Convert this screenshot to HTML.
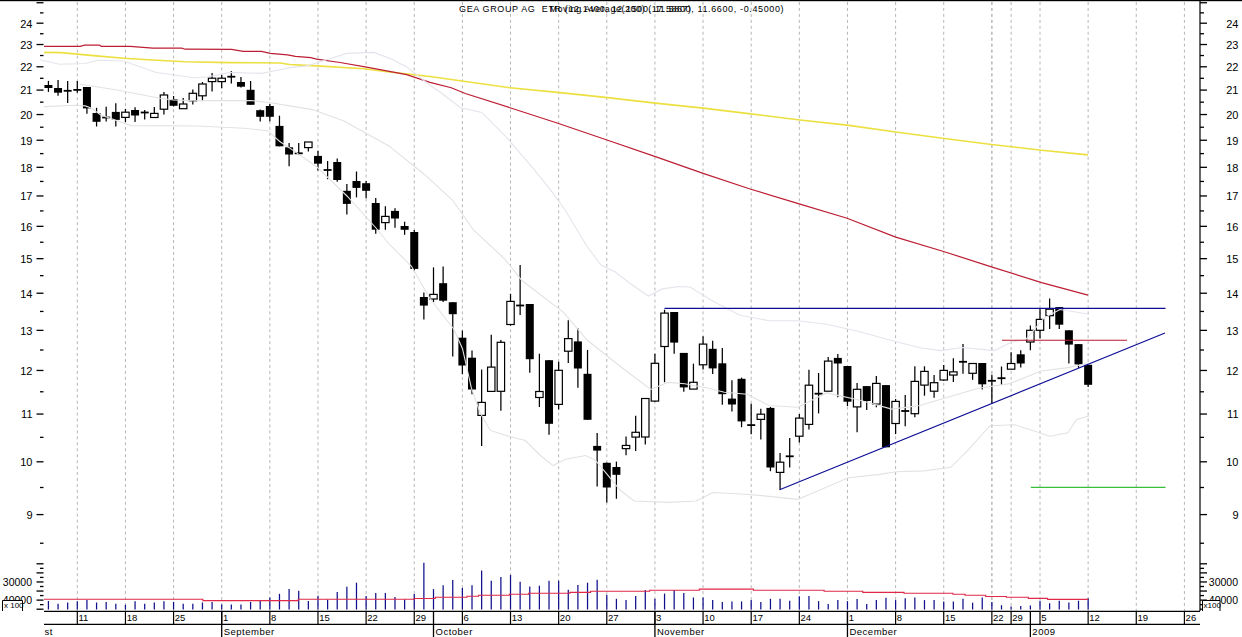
<!DOCTYPE html>
<html><head><meta charset="utf-8"><style>
html,body{margin:0;padding:0;background:#fff;}
svg{display:block;}
text{font-family:"Liberation Sans",sans-serif;fill:#000;}
.pl{font-size:11px;}
.dl{font-size:9.5px;}
.ml{font-size:9.5px;letter-spacing:0.5px;}
.vl{font-size:10.5px;}
.xl{font-size:8px;}
.tl{font-size:9px;letter-spacing:0.4px;white-space:pre;}
</style></head><body>
<svg width="1242" height="637" viewBox="0 0 1242 637">
<rect x="0" y="0" width="1242" height="1.2" fill="#000"/>
<line x1="77.3" y1="2" x2="77.3" y2="611" stroke="#b6b6b6" stroke-width="1" stroke-dasharray="3 2.95"/>
<line x1="125.44" y1="2" x2="125.44" y2="611" stroke="#b6b6b6" stroke-width="1" stroke-dasharray="3 2.95"/>
<line x1="173.57" y1="2" x2="173.57" y2="611" stroke="#b6b6b6" stroke-width="1" stroke-dasharray="3 2.95"/>
<line x1="221.71" y1="2" x2="221.71" y2="611" stroke="#b6b6b6" stroke-width="1" stroke-dasharray="3 2.95"/>
<line x1="269.84" y1="2" x2="269.84" y2="611" stroke="#b6b6b6" stroke-width="1" stroke-dasharray="3 2.95"/>
<line x1="317.98" y1="2" x2="317.98" y2="611" stroke="#b6b6b6" stroke-width="1" stroke-dasharray="3 2.95"/>
<line x1="366.11" y1="2" x2="366.11" y2="611" stroke="#b6b6b6" stroke-width="1" stroke-dasharray="3 2.95"/>
<line x1="414.25" y1="2" x2="414.25" y2="611" stroke="#b6b6b6" stroke-width="1" stroke-dasharray="3 2.95"/>
<line x1="462.38" y1="2" x2="462.38" y2="611" stroke="#b6b6b6" stroke-width="1" stroke-dasharray="3 2.95"/>
<line x1="510.52" y1="2" x2="510.52" y2="611" stroke="#b6b6b6" stroke-width="1" stroke-dasharray="3 2.95"/>
<line x1="558.65" y1="2" x2="558.65" y2="611" stroke="#b6b6b6" stroke-width="1" stroke-dasharray="3 2.95"/>
<line x1="606.79" y1="2" x2="606.79" y2="611" stroke="#b6b6b6" stroke-width="1" stroke-dasharray="3 2.95"/>
<line x1="654.92" y1="2" x2="654.92" y2="611" stroke="#b6b6b6" stroke-width="1" stroke-dasharray="3 2.95"/>
<line x1="703.06" y1="2" x2="703.06" y2="611" stroke="#b6b6b6" stroke-width="1" stroke-dasharray="3 2.95"/>
<line x1="751.19" y1="2" x2="751.19" y2="611" stroke="#b6b6b6" stroke-width="1" stroke-dasharray="3 2.95"/>
<line x1="799.33" y1="2" x2="799.33" y2="611" stroke="#b6b6b6" stroke-width="1" stroke-dasharray="3 2.95"/>
<line x1="847.46" y1="2" x2="847.46" y2="611" stroke="#b6b6b6" stroke-width="1" stroke-dasharray="3 2.95"/>
<line x1="895.6" y1="2" x2="895.6" y2="611" stroke="#b6b6b6" stroke-width="1" stroke-dasharray="3 2.95"/>
<line x1="943.73" y1="2" x2="943.73" y2="611" stroke="#b6b6b6" stroke-width="1" stroke-dasharray="3 2.95"/>
<line x1="991.87" y1="2" x2="991.87" y2="611" stroke="#b6b6b6" stroke-width="1" stroke-dasharray="3 2.95"/>
<line x1="991.87" y1="2" x2="991.87" y2="611" stroke="#b6b6b6" stroke-width="1" stroke-dasharray="3 2.95"/>
<line x1="1011.12" y1="2" x2="1011.12" y2="611" stroke="#b6b6b6" stroke-width="1" stroke-dasharray="3 2.95"/>
<line x1="1040" y1="2" x2="1040" y2="611" stroke="#b6b6b6" stroke-width="1" stroke-dasharray="3 2.95"/>
<line x1="1088.14" y1="2" x2="1088.14" y2="611" stroke="#b6b6b6" stroke-width="1" stroke-dasharray="3 2.95"/>
<line x1="1136.27" y1="2" x2="1136.27" y2="611" stroke="#b6b6b6" stroke-width="1" stroke-dasharray="3 2.95"/>
<line x1="1184.41" y1="2" x2="1184.41" y2="611" stroke="#b6b6b6" stroke-width="1" stroke-dasharray="3 2.95"/>
<line x1="36.5" y1="514.59" x2="43.5" y2="514.59" stroke="#000" stroke-width="1.3"/>
<line x1="40" y1="487.5" x2="43.5" y2="487.5" stroke="#000" stroke-width="1.3"/>
<line x1="36.5" y1="461.8" x2="43.5" y2="461.8" stroke="#000" stroke-width="1.3"/>
<line x1="40" y1="437.36" x2="43.5" y2="437.36" stroke="#000" stroke-width="1.3"/>
<line x1="36.5" y1="414.05" x2="43.5" y2="414.05" stroke="#000" stroke-width="1.3"/>
<line x1="40" y1="391.78" x2="43.5" y2="391.78" stroke="#000" stroke-width="1.3"/>
<line x1="36.5" y1="370.46" x2="43.5" y2="370.46" stroke="#000" stroke-width="1.3"/>
<line x1="40" y1="350.01" x2="43.5" y2="350.01" stroke="#000" stroke-width="1.3"/>
<line x1="36.5" y1="330.36" x2="43.5" y2="330.36" stroke="#000" stroke-width="1.3"/>
<line x1="40" y1="311.45" x2="43.5" y2="311.45" stroke="#000" stroke-width="1.3"/>
<line x1="36.5" y1="293.23" x2="43.5" y2="293.23" stroke="#000" stroke-width="1.3"/>
<line x1="40" y1="275.65" x2="43.5" y2="275.65" stroke="#000" stroke-width="1.3"/>
<line x1="36.5" y1="258.67" x2="43.5" y2="258.67" stroke="#000" stroke-width="1.3"/>
<line x1="40" y1="242.24" x2="43.5" y2="242.24" stroke="#000" stroke-width="1.3"/>
<line x1="36.5" y1="226.33" x2="43.5" y2="226.33" stroke="#000" stroke-width="1.3"/>
<line x1="40" y1="210.92" x2="43.5" y2="210.92" stroke="#000" stroke-width="1.3"/>
<line x1="36.5" y1="195.96" x2="43.5" y2="195.96" stroke="#000" stroke-width="1.3"/>
<line x1="40" y1="181.44" x2="43.5" y2="181.44" stroke="#000" stroke-width="1.3"/>
<line x1="36.5" y1="167.32" x2="43.5" y2="167.32" stroke="#000" stroke-width="1.3"/>
<line x1="40" y1="153.6" x2="43.5" y2="153.6" stroke="#000" stroke-width="1.3"/>
<line x1="36.5" y1="140.24" x2="43.5" y2="140.24" stroke="#000" stroke-width="1.3"/>
<line x1="40" y1="127.22" x2="43.5" y2="127.22" stroke="#000" stroke-width="1.3"/>
<line x1="36.5" y1="114.54" x2="43.5" y2="114.54" stroke="#000" stroke-width="1.3"/>
<line x1="40" y1="102.17" x2="43.5" y2="102.17" stroke="#000" stroke-width="1.3"/>
<line x1="36.5" y1="90.09" x2="43.5" y2="90.09" stroke="#000" stroke-width="1.3"/>
<line x1="40" y1="78.31" x2="43.5" y2="78.31" stroke="#000" stroke-width="1.3"/>
<line x1="36.5" y1="66.79" x2="43.5" y2="66.79" stroke="#000" stroke-width="1.3"/>
<line x1="40" y1="55.53" x2="43.5" y2="55.53" stroke="#000" stroke-width="1.3"/>
<line x1="36.5" y1="44.52" x2="43.5" y2="44.52" stroke="#000" stroke-width="1.3"/>
<line x1="40" y1="33.74" x2="43.5" y2="33.74" stroke="#000" stroke-width="1.3"/>
<line x1="36.5" y1="23.2" x2="43.5" y2="23.2" stroke="#000" stroke-width="1.3"/>
<line x1="40" y1="12.86" x2="43.5" y2="12.86" stroke="#000" stroke-width="1.3"/>
<line x1="36.5" y1="2.74" x2="43.5" y2="2.74" stroke="#000" stroke-width="1.3"/>
<line x1="40" y1="543.23" x2="43.5" y2="543.23" stroke="#000" stroke-width="1.3"/>
<line x1="1200" y1="514.59" x2="1207" y2="514.59" stroke="#000" stroke-width="1.3"/>
<line x1="1200" y1="487.5" x2="1204" y2="487.5" stroke="#000" stroke-width="1.3"/>
<line x1="1200" y1="461.8" x2="1207" y2="461.8" stroke="#000" stroke-width="1.3"/>
<line x1="1200" y1="437.36" x2="1204" y2="437.36" stroke="#000" stroke-width="1.3"/>
<line x1="1200" y1="414.05" x2="1207" y2="414.05" stroke="#000" stroke-width="1.3"/>
<line x1="1200" y1="391.78" x2="1204" y2="391.78" stroke="#000" stroke-width="1.3"/>
<line x1="1200" y1="370.46" x2="1207" y2="370.46" stroke="#000" stroke-width="1.3"/>
<line x1="1200" y1="350.01" x2="1204" y2="350.01" stroke="#000" stroke-width="1.3"/>
<line x1="1200" y1="330.36" x2="1207" y2="330.36" stroke="#000" stroke-width="1.3"/>
<line x1="1200" y1="311.45" x2="1204" y2="311.45" stroke="#000" stroke-width="1.3"/>
<line x1="1200" y1="293.23" x2="1207" y2="293.23" stroke="#000" stroke-width="1.3"/>
<line x1="1200" y1="275.65" x2="1204" y2="275.65" stroke="#000" stroke-width="1.3"/>
<line x1="1200" y1="258.67" x2="1207" y2="258.67" stroke="#000" stroke-width="1.3"/>
<line x1="1200" y1="242.24" x2="1204" y2="242.24" stroke="#000" stroke-width="1.3"/>
<line x1="1200" y1="226.33" x2="1207" y2="226.33" stroke="#000" stroke-width="1.3"/>
<line x1="1200" y1="210.92" x2="1204" y2="210.92" stroke="#000" stroke-width="1.3"/>
<line x1="1200" y1="195.96" x2="1207" y2="195.96" stroke="#000" stroke-width="1.3"/>
<line x1="1200" y1="181.44" x2="1204" y2="181.44" stroke="#000" stroke-width="1.3"/>
<line x1="1200" y1="167.32" x2="1207" y2="167.32" stroke="#000" stroke-width="1.3"/>
<line x1="1200" y1="153.6" x2="1204" y2="153.6" stroke="#000" stroke-width="1.3"/>
<line x1="1200" y1="140.24" x2="1207" y2="140.24" stroke="#000" stroke-width="1.3"/>
<line x1="1200" y1="127.22" x2="1204" y2="127.22" stroke="#000" stroke-width="1.3"/>
<line x1="1200" y1="114.54" x2="1207" y2="114.54" stroke="#000" stroke-width="1.3"/>
<line x1="1200" y1="102.17" x2="1204" y2="102.17" stroke="#000" stroke-width="1.3"/>
<line x1="1200" y1="90.09" x2="1207" y2="90.09" stroke="#000" stroke-width="1.3"/>
<line x1="1200" y1="78.31" x2="1204" y2="78.31" stroke="#000" stroke-width="1.3"/>
<line x1="1200" y1="66.79" x2="1207" y2="66.79" stroke="#000" stroke-width="1.3"/>
<line x1="1200" y1="55.53" x2="1204" y2="55.53" stroke="#000" stroke-width="1.3"/>
<line x1="1200" y1="44.52" x2="1207" y2="44.52" stroke="#000" stroke-width="1.3"/>
<line x1="1200" y1="33.74" x2="1204" y2="33.74" stroke="#000" stroke-width="1.3"/>
<line x1="1200" y1="23.2" x2="1207" y2="23.2" stroke="#000" stroke-width="1.3"/>
<line x1="1200" y1="12.86" x2="1204" y2="12.86" stroke="#000" stroke-width="1.3"/>
<line x1="1200" y1="2.74" x2="1207" y2="2.74" stroke="#000" stroke-width="1.3"/>
<line x1="1200" y1="543.23" x2="1204" y2="543.23" stroke="#000" stroke-width="1.3"/>
<line x1="1200" y1="1" x2="1200" y2="611" stroke="#000" stroke-width="1.2"/>
<text x="32.5" y="518.99" text-anchor="end" class="pl">9</text>
<text x="1238.5" y="518.99" text-anchor="end" class="pl">9</text>
<text x="32.5" y="466.2" text-anchor="end" class="pl">10</text>
<text x="1238.5" y="466.2" text-anchor="end" class="pl">10</text>
<text x="32.5" y="418.45" text-anchor="end" class="pl">11</text>
<text x="1238.5" y="418.45" text-anchor="end" class="pl">11</text>
<text x="32.5" y="374.86" text-anchor="end" class="pl">12</text>
<text x="1238.5" y="374.86" text-anchor="end" class="pl">12</text>
<text x="32.5" y="334.76" text-anchor="end" class="pl">13</text>
<text x="1238.5" y="334.76" text-anchor="end" class="pl">13</text>
<text x="32.5" y="297.63" text-anchor="end" class="pl">14</text>
<text x="1238.5" y="297.63" text-anchor="end" class="pl">14</text>
<text x="32.5" y="263.07" text-anchor="end" class="pl">15</text>
<text x="1238.5" y="263.07" text-anchor="end" class="pl">15</text>
<text x="32.5" y="230.73" text-anchor="end" class="pl">16</text>
<text x="1238.5" y="230.73" text-anchor="end" class="pl">16</text>
<text x="32.5" y="200.36" text-anchor="end" class="pl">17</text>
<text x="1238.5" y="200.36" text-anchor="end" class="pl">17</text>
<text x="32.5" y="171.72" text-anchor="end" class="pl">18</text>
<text x="1238.5" y="171.72" text-anchor="end" class="pl">18</text>
<text x="32.5" y="144.64" text-anchor="end" class="pl">19</text>
<text x="1238.5" y="144.64" text-anchor="end" class="pl">19</text>
<text x="32.5" y="118.94" text-anchor="end" class="pl">20</text>
<text x="1238.5" y="118.94" text-anchor="end" class="pl">20</text>
<text x="32.5" y="94.49" text-anchor="end" class="pl">21</text>
<text x="1238.5" y="94.49" text-anchor="end" class="pl">21</text>
<text x="32.5" y="71.19" text-anchor="end" class="pl">22</text>
<text x="1238.5" y="71.19" text-anchor="end" class="pl">22</text>
<text x="32.5" y="48.92" text-anchor="end" class="pl">23</text>
<text x="1238.5" y="48.92" text-anchor="end" class="pl">23</text>
<text x="32.5" y="27.6" text-anchor="end" class="pl">24</text>
<text x="1238.5" y="27.6" text-anchor="end" class="pl">24</text>
<line x1="36.5" y1="563.8" x2="43.5" y2="563.8" stroke="#000" stroke-width="1.3"/>
<line x1="1200" y1="563.8" x2="1207" y2="563.8" stroke="#000" stroke-width="1.3"/>
<line x1="40" y1="568.34" x2="43.5" y2="568.34" stroke="#000" stroke-width="1.3"/>
<line x1="1200" y1="568.34" x2="1204" y2="568.34" stroke="#000" stroke-width="1.3"/>
<line x1="36.5" y1="572.88" x2="43.5" y2="572.88" stroke="#000" stroke-width="1.3"/>
<line x1="1200" y1="572.88" x2="1207" y2="572.88" stroke="#000" stroke-width="1.3"/>
<line x1="40" y1="577.42" x2="43.5" y2="577.42" stroke="#000" stroke-width="1.3"/>
<line x1="1200" y1="577.42" x2="1204" y2="577.42" stroke="#000" stroke-width="1.3"/>
<line x1="36.5" y1="581.96" x2="43.5" y2="581.96" stroke="#000" stroke-width="1.3"/>
<line x1="1200" y1="581.96" x2="1207" y2="581.96" stroke="#000" stroke-width="1.3"/>
<line x1="40" y1="586.5" x2="43.5" y2="586.5" stroke="#000" stroke-width="1.3"/>
<line x1="1200" y1="586.5" x2="1204" y2="586.5" stroke="#000" stroke-width="1.3"/>
<line x1="36.5" y1="591.04" x2="43.5" y2="591.04" stroke="#000" stroke-width="1.3"/>
<line x1="1200" y1="591.04" x2="1207" y2="591.04" stroke="#000" stroke-width="1.3"/>
<line x1="40" y1="595.58" x2="43.5" y2="595.58" stroke="#000" stroke-width="1.3"/>
<line x1="1200" y1="595.58" x2="1204" y2="595.58" stroke="#000" stroke-width="1.3"/>
<line x1="36.5" y1="600.12" x2="43.5" y2="600.12" stroke="#000" stroke-width="1.3"/>
<line x1="1200" y1="600.12" x2="1207" y2="600.12" stroke="#000" stroke-width="1.3"/>
<line x1="40" y1="604.66" x2="43.5" y2="604.66" stroke="#000" stroke-width="1.3"/>
<line x1="1200" y1="604.66" x2="1204" y2="604.66" stroke="#000" stroke-width="1.3"/>
<line x1="36.5" y1="609.2" x2="43.5" y2="609.2" stroke="#000" stroke-width="1.3"/>
<line x1="1200" y1="609.2" x2="1207" y2="609.2" stroke="#000" stroke-width="1.3"/>
<polyline points="44,52.4 61,52.6 96.4,55.9 123.7,58.3 152.7,60 185,61.8 230,62.6 280,63 289.6,64.5 316.6,65.9 364.1,68.8 387.3,71.7 430,76.5 510,87.7 560,92.6 607.7,97.6 655.4,103.1 703.1,108.1 750.8,113.9 800,120 847.1,125.1 895.7,132 942.8,138.2 991.4,144.5 1041.6,150.2 1088,154.9" fill="none" stroke="#ece040" stroke-width="1.6" />
<polyline points="44,46.3 80.3,46.3 84.3,45.1 99.6,45.1 101.2,46.3 130.2,46.3 152.7,48.2 181.7,48.2 185,49.2 231.6,49.3 243.2,51.4 261.5,51.4 270.2,53.4 287.6,54.8 295.4,56.4 310.8,57.7 316.6,59.2 340,62.5 368,67.4 406.6,74.6 430,82.3 451.2,87.7 465.3,93.5 510,107.7 557.1,123 607.7,140.3 655.4,156.6 703.1,173.4 750.8,189.2 800,204.1 847.1,218.3 895.7,237.1 942.8,251.2 991.4,266.9 1041.6,282.6 1088,295.1" fill="none" stroke="#bc1e34" stroke-width="1.2" />
<line x1="48.42" y1="80.9" x2="48.42" y2="91.9" stroke="#000" stroke-width="1.25"/>
<rect x="44.42" y="85" width="8" height="3" fill="#000"/>
<line x1="58.05" y1="80" x2="58.05" y2="95.7" stroke="#000" stroke-width="1.25"/>
<rect x="54.05" y="88" width="8" height="4.7" fill="#000"/>
<line x1="67.67" y1="81" x2="67.67" y2="102.9" stroke="#000" stroke-width="1.25"/>
<rect x="63.67" y="89.9" width="8" height="1.8" fill="#000"/>
<line x1="77.3" y1="81" x2="77.3" y2="92.7" stroke="#000" stroke-width="1.25"/>
<rect x="73.3" y="89" width="8" height="1.8" fill="#000"/>
<line x1="86.93" y1="87" x2="86.93" y2="113.8" stroke="#000" stroke-width="1.25"/>
<rect x="82.93" y="87" width="8" height="21.4" fill="#000"/>
<line x1="96.56" y1="107.8" x2="96.56" y2="126.5" stroke="#000" stroke-width="1.25"/>
<rect x="92.56" y="113" width="8" height="8.8" fill="#000"/>
<line x1="106.18" y1="106.7" x2="106.18" y2="121.5" stroke="#000" stroke-width="1.25"/>
<rect x="102.18" y="116.6" width="8" height="1.8" fill="#000"/>
<line x1="115.81" y1="103.2" x2="115.81" y2="126.5" stroke="#000" stroke-width="1.25"/>
<rect x="111.81" y="111.9" width="8" height="8" fill="#000"/>
<line x1="125.44" y1="108.9" x2="125.44" y2="122" stroke="#000" stroke-width="1.25"/>
<rect x="121.74" y="112.2" width="7.4" height="5.2" fill="#fff" stroke="#000" stroke-width="1.2"/>
<line x1="135.06" y1="107.3" x2="135.06" y2="122" stroke="#000" stroke-width="1.25"/>
<rect x="131.06" y="110" width="8" height="5.5" fill="#000"/>
<line x1="144.69" y1="110" x2="144.69" y2="119.6" stroke="#000" stroke-width="1.25"/>
<rect x="140.69" y="111.6" width="8" height="1.8" fill="#000"/>
<line x1="154.32" y1="107" x2="154.32" y2="117.5" stroke="#000" stroke-width="1.25"/>
<rect x="150.62" y="113.4" width="7.4" height="4.1" fill="#fff" stroke="#000" stroke-width="1.2"/>
<line x1="163.94" y1="92" x2="163.94" y2="114.6" stroke="#000" stroke-width="1.25"/>
<rect x="160.24" y="95" width="7.4" height="14.2" fill="#fff" stroke="#000" stroke-width="1.2"/>
<line x1="173.57" y1="96" x2="173.57" y2="106.5" stroke="#000" stroke-width="1.25"/>
<rect x="169.57" y="99" width="8" height="6.8" fill="#000"/>
<line x1="183.2" y1="98" x2="183.2" y2="108.7" stroke="#000" stroke-width="1.25"/>
<rect x="179.5" y="104" width="7.4" height="4.7" fill="#fff" stroke="#000" stroke-width="1.2"/>
<line x1="192.82" y1="89.5" x2="192.82" y2="104.6" stroke="#000" stroke-width="1.25"/>
<rect x="189.12" y="93.3" width="7.4" height="7.5" fill="#fff" stroke="#000" stroke-width="1.2"/>
<line x1="202.45" y1="82" x2="202.45" y2="100.8" stroke="#000" stroke-width="1.25"/>
<rect x="198.75" y="84" width="7.4" height="11.8" fill="#fff" stroke="#000" stroke-width="1.2"/>
<line x1="212.08" y1="73" x2="212.08" y2="91.4" stroke="#000" stroke-width="1.25"/>
<rect x="208.38" y="78.2" width="7.4" height="3.4" fill="#fff" stroke="#000" stroke-width="1.2"/>
<line x1="221.71" y1="75" x2="221.71" y2="88.3" stroke="#000" stroke-width="1.25"/>
<rect x="218.01" y="78.2" width="7.4" height="3.4" fill="#fff" stroke="#000" stroke-width="1.2"/>
<line x1="231.33" y1="71" x2="231.33" y2="83.6" stroke="#000" stroke-width="1.25"/>
<rect x="227.33" y="75.8" width="8" height="1.8" fill="#000"/>
<line x1="240.96" y1="77" x2="240.96" y2="87.6" stroke="#000" stroke-width="1.25"/>
<rect x="236.96" y="82" width="8" height="4.7" fill="#000"/>
<line x1="250.59" y1="81" x2="250.59" y2="104.8" stroke="#000" stroke-width="1.25"/>
<rect x="246.59" y="89.8" width="8" height="15" fill="#000"/>
<line x1="260.21" y1="109.4" x2="260.21" y2="121.5" stroke="#000" stroke-width="1.25"/>
<rect x="256.21" y="110.2" width="8" height="6.6" fill="#000"/>
<line x1="269.84" y1="104" x2="269.84" y2="121.2" stroke="#000" stroke-width="1.25"/>
<rect x="265.84" y="106" width="8" height="10.8" fill="#000"/>
<line x1="279.47" y1="115.7" x2="279.47" y2="146.3" stroke="#000" stroke-width="1.25"/>
<rect x="275.47" y="125.9" width="8" height="20.4" fill="#000"/>
<line x1="289.1" y1="143" x2="289.1" y2="166.3" stroke="#000" stroke-width="1.25"/>
<rect x="285.1" y="147.3" width="8" height="7.2" fill="#000"/>
<line x1="298.72" y1="143" x2="298.72" y2="155" stroke="#000" stroke-width="1.25"/>
<rect x="294.72" y="152.4" width="8" height="1.8" fill="#000"/>
<line x1="308.35" y1="142" x2="308.35" y2="151.6" stroke="#000" stroke-width="1.25"/>
<rect x="304.65" y="142" width="7.4" height="5.6" fill="#fff" stroke="#000" stroke-width="1.2"/>
<line x1="317.98" y1="150.7" x2="317.98" y2="170.6" stroke="#000" stroke-width="1.25"/>
<rect x="313.98" y="155.9" width="8" height="7.8" fill="#000"/>
<line x1="327.6" y1="161" x2="327.6" y2="179.2" stroke="#000" stroke-width="1.25"/>
<rect x="323.6" y="169.1" width="8" height="1.8" fill="#000"/>
<line x1="337.23" y1="158.5" x2="337.23" y2="181.8" stroke="#000" stroke-width="1.25"/>
<rect x="333.23" y="162" width="8" height="18" fill="#000"/>
<line x1="346.86" y1="183.9" x2="346.86" y2="214.6" stroke="#000" stroke-width="1.25"/>
<rect x="342.86" y="190.8" width="8" height="13.1" fill="#000"/>
<line x1="356.48" y1="171.5" x2="356.48" y2="197.4" stroke="#000" stroke-width="1.25"/>
<rect x="352.48" y="181" width="8" height="6.9" fill="#000"/>
<line x1="366.11" y1="181" x2="366.11" y2="198.2" stroke="#000" stroke-width="1.25"/>
<rect x="362.11" y="183.2" width="8" height="7.6" fill="#000"/>
<line x1="375.74" y1="198" x2="375.74" y2="233.7" stroke="#000" stroke-width="1.25"/>
<rect x="371.74" y="203" width="8" height="26.7" fill="#000"/>
<line x1="385.37" y1="206.2" x2="385.37" y2="229.7" stroke="#000" stroke-width="1.25"/>
<rect x="381.67" y="216.4" width="7.4" height="6.2" fill="#fff" stroke="#000" stroke-width="1.2"/>
<line x1="394.99" y1="208.3" x2="394.99" y2="227.7" stroke="#000" stroke-width="1.25"/>
<rect x="390.99" y="210.9" width="8" height="7.6" fill="#000"/>
<line x1="404.62" y1="221.7" x2="404.62" y2="234.8" stroke="#000" stroke-width="1.25"/>
<rect x="400.62" y="226" width="8" height="3.8" fill="#000"/>
<line x1="414.25" y1="230" x2="414.25" y2="270.5" stroke="#000" stroke-width="1.25"/>
<rect x="410.25" y="232" width="8" height="36.9" fill="#000"/>
<line x1="423.87" y1="292.6" x2="423.87" y2="319.5" stroke="#000" stroke-width="1.25"/>
<rect x="419.87" y="297" width="8" height="8.6" fill="#000"/>
<line x1="433.5" y1="267.4" x2="433.5" y2="302.1" stroke="#000" stroke-width="1.25"/>
<rect x="429.8" y="294.4" width="7.4" height="4.6" fill="#fff" stroke="#000" stroke-width="1.2"/>
<line x1="443.13" y1="266.4" x2="443.13" y2="302.1" stroke="#000" stroke-width="1.25"/>
<rect x="439.13" y="283.2" width="8" height="17.5" fill="#000"/>
<line x1="452.75" y1="302.2" x2="452.75" y2="356.5" stroke="#000" stroke-width="1.25"/>
<rect x="448.75" y="302.2" width="8" height="12" fill="#000"/>
<line x1="462.38" y1="330.6" x2="462.38" y2="374.2" stroke="#000" stroke-width="1.25"/>
<rect x="458.38" y="337.7" width="8" height="27.8" fill="#000"/>
<line x1="472.01" y1="350.6" x2="472.01" y2="394.2" stroke="#000" stroke-width="1.25"/>
<rect x="468.01" y="357.7" width="8" height="31.8" fill="#000"/>
<line x1="481.64" y1="369.5" x2="481.64" y2="446" stroke="#000" stroke-width="1.25"/>
<rect x="477.94" y="402.4" width="7.4" height="13" fill="#fff" stroke="#000" stroke-width="1.2"/>
<line x1="491.26" y1="334.8" x2="491.26" y2="391.4" stroke="#000" stroke-width="1.25"/>
<rect x="487.56" y="367.1" width="7.4" height="24.3" fill="#fff" stroke="#000" stroke-width="1.2"/>
<line x1="500.89" y1="340" x2="500.89" y2="410.7" stroke="#000" stroke-width="1.25"/>
<rect x="497.19" y="342.3" width="7.4" height="49" fill="#fff" stroke="#000" stroke-width="1.2"/>
<line x1="510.52" y1="293.9" x2="510.52" y2="325.6" stroke="#000" stroke-width="1.25"/>
<rect x="506.82" y="301.4" width="7.4" height="23.1" fill="#fff" stroke="#000" stroke-width="1.2"/>
<line x1="520.14" y1="264.9" x2="520.14" y2="315" stroke="#000" stroke-width="1.25"/>
<rect x="516.14" y="304.6" width="8" height="1.8" fill="#000"/>
<line x1="529.77" y1="304" x2="529.77" y2="372.7" stroke="#000" stroke-width="1.25"/>
<rect x="525.77" y="304" width="8" height="55.2" fill="#000"/>
<line x1="539.4" y1="353.7" x2="539.4" y2="407" stroke="#000" stroke-width="1.25"/>
<rect x="535.7" y="391.5" width="7.4" height="6" fill="#fff" stroke="#000" stroke-width="1.2"/>
<line x1="549.02" y1="360" x2="549.02" y2="434.8" stroke="#000" stroke-width="1.25"/>
<rect x="545.02" y="360.2" width="8" height="63.6" fill="#000"/>
<line x1="558.65" y1="361.8" x2="558.65" y2="409.4" stroke="#000" stroke-width="1.25"/>
<rect x="554.95" y="370.3" width="7.4" height="34.1" fill="#fff" stroke="#000" stroke-width="1.2"/>
<line x1="568.28" y1="320.3" x2="568.28" y2="363" stroke="#000" stroke-width="1.25"/>
<rect x="564.58" y="338.6" width="7.4" height="12.6" fill="#fff" stroke="#000" stroke-width="1.2"/>
<line x1="577.9" y1="328.2" x2="577.9" y2="387.7" stroke="#000" stroke-width="1.25"/>
<rect x="573.9" y="341.4" width="8" height="27.1" fill="#000"/>
<line x1="587.53" y1="349.9" x2="587.53" y2="420" stroke="#000" stroke-width="1.25"/>
<rect x="583.53" y="373.8" width="8" height="46" fill="#000"/>
<line x1="597.16" y1="433" x2="597.16" y2="486.6" stroke="#000" stroke-width="1.25"/>
<rect x="593.16" y="445.9" width="8" height="4.7" fill="#000"/>
<line x1="606.79" y1="462.4" x2="606.79" y2="502.4" stroke="#000" stroke-width="1.25"/>
<rect x="602.79" y="462.8" width="8" height="24.7" fill="#000"/>
<line x1="616.41" y1="461.6" x2="616.41" y2="498.8" stroke="#000" stroke-width="1.25"/>
<rect x="612.41" y="467" width="8" height="7.8" fill="#000"/>
<line x1="626.04" y1="436.5" x2="626.04" y2="455.3" stroke="#000" stroke-width="1.25"/>
<rect x="622.34" y="445.45" width="7.4" height="3.2" fill="#fff" stroke="#000" stroke-width="1.2"/>
<line x1="635.67" y1="415.8" x2="635.67" y2="450.9" stroke="#000" stroke-width="1.25"/>
<rect x="631.97" y="432.3" width="7.4" height="4.8" fill="#fff" stroke="#000" stroke-width="1.2"/>
<line x1="645.29" y1="398" x2="645.29" y2="444.5" stroke="#000" stroke-width="1.25"/>
<rect x="641.59" y="398.5" width="7.4" height="38.5" fill="#fff" stroke="#000" stroke-width="1.2"/>
<line x1="654.92" y1="353.7" x2="654.92" y2="401.8" stroke="#000" stroke-width="1.25"/>
<rect x="651.22" y="363.3" width="7.4" height="37.8" fill="#fff" stroke="#000" stroke-width="1.2"/>
<line x1="664.55" y1="309.7" x2="664.55" y2="382.2" stroke="#000" stroke-width="1.25"/>
<rect x="660.85" y="313.1" width="7.4" height="33.4" fill="#fff" stroke="#000" stroke-width="1.2"/>
<line x1="674.17" y1="312" x2="674.17" y2="353.7" stroke="#000" stroke-width="1.25"/>
<rect x="670.17" y="312" width="8" height="30.6" fill="#000"/>
<line x1="683.8" y1="352.9" x2="683.8" y2="391.7" stroke="#000" stroke-width="1.25"/>
<rect x="679.8" y="352.9" width="8" height="34.5" fill="#000"/>
<line x1="693.43" y1="363.7" x2="693.43" y2="389.1" stroke="#000" stroke-width="1.25"/>
<rect x="689.73" y="382.3" width="7.4" height="6.8" fill="#fff" stroke="#000" stroke-width="1.2"/>
<line x1="703.06" y1="336.3" x2="703.06" y2="369.6" stroke="#000" stroke-width="1.25"/>
<rect x="699.36" y="344.1" width="7.4" height="20.7" fill="#fff" stroke="#000" stroke-width="1.2"/>
<line x1="712.68" y1="340.8" x2="712.68" y2="373.9" stroke="#000" stroke-width="1.25"/>
<rect x="708.68" y="348.8" width="8" height="19.6" fill="#000"/>
<line x1="722.31" y1="348" x2="722.31" y2="404.7" stroke="#000" stroke-width="1.25"/>
<rect x="718.31" y="363.3" width="8" height="30.9" fill="#000"/>
<line x1="731.94" y1="380.2" x2="731.94" y2="411.6" stroke="#000" stroke-width="1.25"/>
<rect x="727.94" y="398.6" width="8" height="5.9" fill="#000"/>
<line x1="741.56" y1="377.6" x2="741.56" y2="427.2" stroke="#000" stroke-width="1.25"/>
<rect x="737.56" y="378.8" width="8" height="42.6" fill="#000"/>
<line x1="751.19" y1="403.7" x2="751.19" y2="434.2" stroke="#000" stroke-width="1.25"/>
<rect x="747.19" y="424.2" width="8" height="1.8" fill="#000"/>
<line x1="760.82" y1="408.8" x2="760.82" y2="439.4" stroke="#000" stroke-width="1.25"/>
<rect x="757.12" y="414.2" width="7.4" height="5.2" fill="#fff" stroke="#000" stroke-width="1.2"/>
<line x1="770.45" y1="406.9" x2="770.45" y2="471.2" stroke="#000" stroke-width="1.25"/>
<rect x="766.45" y="407.9" width="8" height="59.6" fill="#000"/>
<line x1="780.07" y1="452.9" x2="780.07" y2="489.8" stroke="#000" stroke-width="1.25"/>
<rect x="776.37" y="462.2" width="7.4" height="10.2" fill="#fff" stroke="#000" stroke-width="1.2"/>
<line x1="789.7" y1="437.9" x2="789.7" y2="467.5" stroke="#000" stroke-width="1.25"/>
<rect x="785.7" y="455.4" width="8" height="1.8" fill="#000"/>
<line x1="799.33" y1="413.9" x2="799.33" y2="442.4" stroke="#000" stroke-width="1.25"/>
<rect x="795.63" y="418.1" width="7.4" height="18.1" fill="#fff" stroke="#000" stroke-width="1.2"/>
<line x1="808.95" y1="369.8" x2="808.95" y2="429.5" stroke="#000" stroke-width="1.25"/>
<rect x="805.25" y="385.2" width="7.4" height="39.2" fill="#fff" stroke="#000" stroke-width="1.2"/>
<line x1="818.58" y1="373" x2="818.58" y2="413.4" stroke="#000" stroke-width="1.25"/>
<rect x="814.58" y="392.8" width="8" height="1.8" fill="#000"/>
<line x1="828.21" y1="357" x2="828.21" y2="391.2" stroke="#000" stroke-width="1.25"/>
<rect x="824.51" y="361.1" width="7.4" height="30.1" fill="#fff" stroke="#000" stroke-width="1.2"/>
<line x1="837.83" y1="354.1" x2="837.83" y2="397.2" stroke="#000" stroke-width="1.25"/>
<rect x="833.83" y="357.9" width="8" height="5.6" fill="#000"/>
<line x1="847.46" y1="366" x2="847.46" y2="406" stroke="#000" stroke-width="1.25"/>
<rect x="843.46" y="366" width="8" height="35.7" fill="#000"/>
<line x1="857.09" y1="382.9" x2="857.09" y2="432.3" stroke="#000" stroke-width="1.25"/>
<rect x="853.39" y="389.3" width="7.4" height="17.6" fill="#fff" stroke="#000" stroke-width="1.2"/>
<line x1="866.72" y1="386.1" x2="866.72" y2="410" stroke="#000" stroke-width="1.25"/>
<rect x="862.72" y="386.1" width="8" height="14.9" fill="#000"/>
<line x1="876.34" y1="376" x2="876.34" y2="407.3" stroke="#000" stroke-width="1.25"/>
<rect x="872.64" y="383.4" width="7.4" height="20.7" fill="#fff" stroke="#000" stroke-width="1.2"/>
<line x1="885.97" y1="385.1" x2="885.97" y2="447.3" stroke="#000" stroke-width="1.25"/>
<rect x="881.97" y="385.1" width="8" height="62.2" fill="#000"/>
<line x1="895.6" y1="399" x2="895.6" y2="434.1" stroke="#000" stroke-width="1.25"/>
<rect x="891.9" y="401.4" width="7.4" height="22.1" fill="#fff" stroke="#000" stroke-width="1.2"/>
<line x1="905.22" y1="394.9" x2="905.22" y2="426.3" stroke="#000" stroke-width="1.25"/>
<rect x="901.22" y="410.1" width="8" height="1.8" fill="#000"/>
<line x1="914.85" y1="366.3" x2="914.85" y2="417.3" stroke="#000" stroke-width="1.25"/>
<rect x="911.15" y="381.4" width="7.4" height="32.3" fill="#fff" stroke="#000" stroke-width="1.2"/>
<line x1="924.48" y1="366.3" x2="924.48" y2="395.7" stroke="#000" stroke-width="1.25"/>
<rect x="920.78" y="371.4" width="7.4" height="13.7" fill="#fff" stroke="#000" stroke-width="1.2"/>
<line x1="934.1" y1="374.9" x2="934.1" y2="397.8" stroke="#000" stroke-width="1.25"/>
<rect x="930.4" y="382.7" width="7.4" height="8.5" fill="#fff" stroke="#000" stroke-width="1.2"/>
<line x1="943.73" y1="365.1" x2="943.73" y2="381" stroke="#000" stroke-width="1.25"/>
<rect x="940.03" y="370.4" width="7.4" height="9.6" fill="#fff" stroke="#000" stroke-width="1.2"/>
<line x1="953.36" y1="358.2" x2="953.36" y2="382" stroke="#000" stroke-width="1.25"/>
<rect x="949.66" y="371.85" width="7.4" height="3.2" fill="#fff" stroke="#000" stroke-width="1.2"/>
<line x1="962.99" y1="344" x2="962.99" y2="373.7" stroke="#000" stroke-width="1.25"/>
<rect x="958.99" y="360.9" width="8" height="1.8" fill="#000"/>
<line x1="972.61" y1="363" x2="972.61" y2="379.8" stroke="#000" stroke-width="1.25"/>
<rect x="968.91" y="363.5" width="7.4" height="9.8" fill="#fff" stroke="#000" stroke-width="1.2"/>
<line x1="982.24" y1="363" x2="982.24" y2="389.6" stroke="#000" stroke-width="1.25"/>
<rect x="978.24" y="363" width="8" height="21.3" fill="#000"/>
<line x1="991.87" y1="374.7" x2="991.87" y2="403.3" stroke="#000" stroke-width="1.25"/>
<rect x="987.87" y="379.9" width="8" height="1.8" fill="#000"/>
<line x1="1001.49" y1="366.5" x2="1001.49" y2="384.9" stroke="#000" stroke-width="1.25"/>
<rect x="997.49" y="377.3" width="8" height="1.8" fill="#000"/>
<line x1="1011.12" y1="352.2" x2="1011.12" y2="369.2" stroke="#000" stroke-width="1.25"/>
<rect x="1007.42" y="363.5" width="7.4" height="5.7" fill="#fff" stroke="#000" stroke-width="1.2"/>
<line x1="1020.75" y1="350.2" x2="1020.75" y2="367.6" stroke="#000" stroke-width="1.25"/>
<rect x="1016.75" y="354.3" width="8" height="9.2" fill="#000"/>
<line x1="1030.37" y1="325.6" x2="1030.37" y2="350.3" stroke="#000" stroke-width="1.25"/>
<rect x="1026.67" y="330.3" width="7.4" height="11.7" fill="#fff" stroke="#000" stroke-width="1.2"/>
<line x1="1040" y1="308.3" x2="1040" y2="338.5" stroke="#000" stroke-width="1.25"/>
<rect x="1036.3" y="319.4" width="7.4" height="10.9" fill="#fff" stroke="#000" stroke-width="1.2"/>
<line x1="1049.63" y1="298.5" x2="1049.63" y2="329" stroke="#000" stroke-width="1.25"/>
<rect x="1045.93" y="309.2" width="7.4" height="6.5" fill="#fff" stroke="#000" stroke-width="1.2"/>
<line x1="1059.26" y1="307.1" x2="1059.26" y2="329" stroke="#000" stroke-width="1.25"/>
<rect x="1055.26" y="307.1" width="8" height="17.6" fill="#000"/>
<line x1="1068.88" y1="330.3" x2="1068.88" y2="363.6" stroke="#000" stroke-width="1.25"/>
<rect x="1064.88" y="330.3" width="8" height="14.3" fill="#000"/>
<line x1="1078.51" y1="344.1" x2="1078.51" y2="367.9" stroke="#000" stroke-width="1.25"/>
<rect x="1074.51" y="344.1" width="8" height="20.3" fill="#000"/>
<line x1="1088.14" y1="364.8" x2="1088.14" y2="386.9" stroke="#000" stroke-width="1.25"/>
<rect x="1084.14" y="364.8" width="8" height="20" fill="#000"/>
<polyline points="40,59.7 59.3,64.2 85,63.5 98,60.3 123.8,61 156,72.5 175,75 194,77.7 208.6,76.7 230,72.4 261.8,73.4 276.3,70.5 290,67.6 307,65.9 334.2,57.2 346.7,53.4 373.8,52.4 392,59.2 406.6,66.9 430,85.2 440,92 460.6,107.7 481.8,112.4 505.3,136 533.6,168.9 552.4,192.4 565.9,211.2 587.1,246.5 601.2,265.3 615.3,272 629.5,283 648.3,296 662.4,288.9 678.9,286.5 690,287 713.5,301.4 740,315.3 768.9,320.7 797.8,320.7 826.6,324.3 859.1,331.5 891.6,340.5 920,347.8 940.8,350.6 962.8,347.5 994.2,350.6 1011.8,342 1025.6,339.7 1044.4,317.7 1060,309.5 1088,314" fill="none" stroke="#e4e4ec" stroke-width="1.1" />
<polyline points="80,84.5 84,84.8 118.5,90.3 160,98.3 173,99.9 193,100.8 209,100.6 251,100.5 270.6,102.8 288.3,105.6 312.5,109.6 344,121 388.9,145.9 424.2,174.2 452.4,200 473.5,230 504.3,258.6 521.9,280.5 563.5,312.4 587.1,340 622.6,368.2 650.8,389.4 667.8,382.4 684.7,383.8 707.3,388 724.3,392.3 746.9,394.2 768.9,405.5 797.8,407.3 826.6,392.9 859.1,400 891.6,409.1 920,405.5 940.8,399.3 978.5,388.3 1009.9,383.6 1041.3,371 1066.4,367.9 1088.4,363.2" fill="none" stroke="#e2e2e6" stroke-width="1.1" />
<polyline points="44,106.6 75.4,105.2 85.3,105.9 91,108 100.8,115 131,125.6 197,126 244,128.3 267.7,130.7 279.4,141.2 293.5,150.6 317,167 347,196 376,228 390,245 411.3,266 429.6,298 453.7,329 462.5,348.7 471.3,387.7 480.1,412.8 490.2,430.4 510.3,436.7 525.3,440.5 540.4,455.5 553,465.6 565.5,459.3 585.6,455.5 595.7,460.6 608.2,475.6 620,490 634,501 667.8,502.4 696,501 713,492.5 741.2,494 760,495.4 797.8,499.4 848.3,477.7 880,474.4 896,471.7 924.3,470.9 950.9,467.3 968.6,449.6 989.8,425.7 1014.6,424.8 1039.4,432.8 1050,436.3 1067.8,432.8 1076.6,419.5 1089,416" fill="none" stroke="#e2e2e6" stroke-width="1.1" />
<line x1="664.5" y1="308.4" x2="1165.5" y2="308.4" stroke="#0c0c96" stroke-width="1.1"/>
<line x1="779.6" y1="489.8" x2="1165" y2="333" stroke="#0c0c96" stroke-width="1.1"/>
<line x1="1002" y1="340.3" x2="1127" y2="340.3" stroke="#b81a2c" stroke-width="1.1"/>
<line x1="1030.8" y1="487.4" x2="1165.5" y2="487.4" stroke="#38c038" stroke-width="1.1"/>
<line x1="48.42" y1="601" x2="48.42" y2="609.5" stroke="#10108c" stroke-width="1.25"/>
<line x1="58.05" y1="603.8" x2="58.05" y2="609.5" stroke="#10108c" stroke-width="1.25"/>
<line x1="67.67" y1="602.5" x2="67.67" y2="609.5" stroke="#10108c" stroke-width="1.25"/>
<line x1="77.3" y1="601.2" x2="77.3" y2="609.5" stroke="#10108c" stroke-width="1.25"/>
<line x1="86.93" y1="600" x2="86.93" y2="609.5" stroke="#10108c" stroke-width="1.25"/>
<line x1="96.56" y1="602.5" x2="96.56" y2="609.5" stroke="#10108c" stroke-width="1.25"/>
<line x1="106.18" y1="601.9" x2="106.18" y2="609.5" stroke="#10108c" stroke-width="1.25"/>
<line x1="115.81" y1="603.8" x2="115.81" y2="609.5" stroke="#10108c" stroke-width="1.25"/>
<line x1="125.44" y1="604.8" x2="125.44" y2="609.5" stroke="#10108c" stroke-width="1.25"/>
<line x1="135.06" y1="601.2" x2="135.06" y2="609.5" stroke="#10108c" stroke-width="1.25"/>
<line x1="144.69" y1="603.8" x2="144.69" y2="609.5" stroke="#10108c" stroke-width="1.25"/>
<line x1="154.32" y1="602.5" x2="154.32" y2="609.5" stroke="#10108c" stroke-width="1.25"/>
<line x1="163.94" y1="601.2" x2="163.94" y2="609.5" stroke="#10108c" stroke-width="1.25"/>
<line x1="173.57" y1="601.9" x2="173.57" y2="609.5" stroke="#10108c" stroke-width="1.25"/>
<line x1="183.2" y1="603.8" x2="183.2" y2="609.5" stroke="#10108c" stroke-width="1.25"/>
<line x1="192.82" y1="603.8" x2="192.82" y2="609.5" stroke="#10108c" stroke-width="1.25"/>
<line x1="202.45" y1="602.5" x2="202.45" y2="609.5" stroke="#10108c" stroke-width="1.25"/>
<line x1="212.08" y1="601.9" x2="212.08" y2="609.5" stroke="#10108c" stroke-width="1.25"/>
<line x1="221.71" y1="604.4" x2="221.71" y2="609.5" stroke="#10108c" stroke-width="1.25"/>
<line x1="231.33" y1="604.4" x2="231.33" y2="609.5" stroke="#10108c" stroke-width="1.25"/>
<line x1="240.96" y1="604.4" x2="240.96" y2="609.5" stroke="#10108c" stroke-width="1.25"/>
<line x1="250.59" y1="601.9" x2="250.59" y2="609.5" stroke="#10108c" stroke-width="1.25"/>
<line x1="260.21" y1="600.6" x2="260.21" y2="609.5" stroke="#10108c" stroke-width="1.25"/>
<line x1="269.84" y1="597.4" x2="269.84" y2="609.5" stroke="#10108c" stroke-width="1.25"/>
<line x1="279.47" y1="593.8" x2="279.47" y2="609.5" stroke="#10108c" stroke-width="1.25"/>
<line x1="289.1" y1="589" x2="289.1" y2="609.5" stroke="#10108c" stroke-width="1.25"/>
<line x1="298.72" y1="590.7" x2="298.72" y2="609.5" stroke="#10108c" stroke-width="1.25"/>
<line x1="308.35" y1="601" x2="308.35" y2="609.5" stroke="#10108c" stroke-width="1.25"/>
<line x1="317.98" y1="595.8" x2="317.98" y2="609.5" stroke="#10108c" stroke-width="1.25"/>
<line x1="327.6" y1="599.7" x2="327.6" y2="609.5" stroke="#10108c" stroke-width="1.25"/>
<line x1="337.23" y1="592" x2="337.23" y2="609.5" stroke="#10108c" stroke-width="1.25"/>
<line x1="346.86" y1="586.8" x2="346.86" y2="609.5" stroke="#10108c" stroke-width="1.25"/>
<line x1="356.48" y1="582.7" x2="356.48" y2="609.5" stroke="#10108c" stroke-width="1.25"/>
<line x1="366.11" y1="596" x2="366.11" y2="609.5" stroke="#10108c" stroke-width="1.25"/>
<line x1="375.74" y1="593" x2="375.74" y2="609.5" stroke="#10108c" stroke-width="1.25"/>
<line x1="385.37" y1="593" x2="385.37" y2="609.5" stroke="#10108c" stroke-width="1.25"/>
<line x1="394.99" y1="596.9" x2="394.99" y2="609.5" stroke="#10108c" stroke-width="1.25"/>
<line x1="404.62" y1="599.4" x2="404.62" y2="609.5" stroke="#10108c" stroke-width="1.25"/>
<line x1="414.25" y1="593.9" x2="414.25" y2="609.5" stroke="#10108c" stroke-width="1.25"/>
<line x1="423.87" y1="562.7" x2="423.87" y2="609.5" stroke="#10108c" stroke-width="1.25"/>
<line x1="433.5" y1="589.1" x2="433.5" y2="609.5" stroke="#10108c" stroke-width="1.25"/>
<line x1="443.13" y1="585.3" x2="443.13" y2="609.5" stroke="#10108c" stroke-width="1.25"/>
<line x1="452.75" y1="580.1" x2="452.75" y2="609.5" stroke="#10108c" stroke-width="1.25"/>
<line x1="462.38" y1="587.9" x2="462.38" y2="609.5" stroke="#10108c" stroke-width="1.25"/>
<line x1="472.01" y1="585.3" x2="472.01" y2="609.5" stroke="#10108c" stroke-width="1.25"/>
<line x1="481.64" y1="570.5" x2="481.64" y2="609.5" stroke="#10108c" stroke-width="1.25"/>
<line x1="491.26" y1="580.8" x2="491.26" y2="609.5" stroke="#10108c" stroke-width="1.25"/>
<line x1="500.89" y1="576.9" x2="500.89" y2="609.5" stroke="#10108c" stroke-width="1.25"/>
<line x1="510.52" y1="575" x2="510.52" y2="609.5" stroke="#10108c" stroke-width="1.25"/>
<line x1="520.14" y1="581.8" x2="520.14" y2="609.5" stroke="#10108c" stroke-width="1.25"/>
<line x1="529.77" y1="586.6" x2="529.77" y2="609.5" stroke="#10108c" stroke-width="1.25"/>
<line x1="539.4" y1="585.7" x2="539.4" y2="609.5" stroke="#10108c" stroke-width="1.25"/>
<line x1="549.02" y1="580.8" x2="549.02" y2="609.5" stroke="#10108c" stroke-width="1.25"/>
<line x1="558.65" y1="580.8" x2="558.65" y2="609.5" stroke="#10108c" stroke-width="1.25"/>
<line x1="568.28" y1="589.8" x2="568.28" y2="609.5" stroke="#10108c" stroke-width="1.25"/>
<line x1="577.9" y1="584.9" x2="577.9" y2="609.5" stroke="#10108c" stroke-width="1.25"/>
<line x1="587.53" y1="582.7" x2="587.53" y2="609.5" stroke="#10108c" stroke-width="1.25"/>
<line x1="597.16" y1="579.7" x2="597.16" y2="609.5" stroke="#10108c" stroke-width="1.25"/>
<line x1="606.79" y1="594.7" x2="606.79" y2="609.5" stroke="#10108c" stroke-width="1.25"/>
<line x1="616.41" y1="598.8" x2="616.41" y2="609.5" stroke="#10108c" stroke-width="1.25"/>
<line x1="626.04" y1="600.1" x2="626.04" y2="609.5" stroke="#10108c" stroke-width="1.25"/>
<line x1="635.67" y1="596" x2="635.67" y2="609.5" stroke="#10108c" stroke-width="1.25"/>
<line x1="645.29" y1="590" x2="645.29" y2="609.5" stroke="#10108c" stroke-width="1.25"/>
<line x1="654.92" y1="598.8" x2="654.92" y2="609.5" stroke="#10108c" stroke-width="1.25"/>
<line x1="664.55" y1="593.6" x2="664.55" y2="609.5" stroke="#10108c" stroke-width="1.25"/>
<line x1="674.17" y1="590" x2="674.17" y2="609.5" stroke="#10108c" stroke-width="1.25"/>
<line x1="683.8" y1="593" x2="683.8" y2="609.5" stroke="#10108c" stroke-width="1.25"/>
<line x1="693.43" y1="597.5" x2="693.43" y2="609.5" stroke="#10108c" stroke-width="1.25"/>
<line x1="703.06" y1="597.5" x2="703.06" y2="609.5" stroke="#10108c" stroke-width="1.25"/>
<line x1="712.68" y1="600.1" x2="712.68" y2="609.5" stroke="#10108c" stroke-width="1.25"/>
<line x1="722.31" y1="602" x2="722.31" y2="609.5" stroke="#10108c" stroke-width="1.25"/>
<line x1="731.94" y1="601.4" x2="731.94" y2="609.5" stroke="#10108c" stroke-width="1.25"/>
<line x1="741.56" y1="601.4" x2="741.56" y2="609.5" stroke="#10108c" stroke-width="1.25"/>
<line x1="751.19" y1="600.1" x2="751.19" y2="609.5" stroke="#10108c" stroke-width="1.25"/>
<line x1="760.82" y1="602" x2="760.82" y2="609.5" stroke="#10108c" stroke-width="1.25"/>
<line x1="770.45" y1="598.8" x2="770.45" y2="609.5" stroke="#10108c" stroke-width="1.25"/>
<line x1="780.07" y1="598.8" x2="780.07" y2="609.5" stroke="#10108c" stroke-width="1.25"/>
<line x1="789.7" y1="600.7" x2="789.7" y2="609.5" stroke="#10108c" stroke-width="1.25"/>
<line x1="799.33" y1="596.2" x2="799.33" y2="609.5" stroke="#10108c" stroke-width="1.25"/>
<line x1="808.95" y1="596" x2="808.95" y2="609.5" stroke="#10108c" stroke-width="1.25"/>
<line x1="818.58" y1="601.1" x2="818.58" y2="609.5" stroke="#10108c" stroke-width="1.25"/>
<line x1="828.21" y1="604" x2="828.21" y2="609.5" stroke="#10108c" stroke-width="1.25"/>
<line x1="837.83" y1="600.1" x2="837.83" y2="609.5" stroke="#10108c" stroke-width="1.25"/>
<line x1="847.46" y1="601.1" x2="847.46" y2="609.5" stroke="#10108c" stroke-width="1.25"/>
<line x1="857.09" y1="599.1" x2="857.09" y2="609.5" stroke="#10108c" stroke-width="1.25"/>
<line x1="866.72" y1="604" x2="866.72" y2="609.5" stroke="#10108c" stroke-width="1.25"/>
<line x1="876.34" y1="600.1" x2="876.34" y2="609.5" stroke="#10108c" stroke-width="1.25"/>
<line x1="885.97" y1="597.8" x2="885.97" y2="609.5" stroke="#10108c" stroke-width="1.25"/>
<line x1="895.6" y1="600.1" x2="895.6" y2="609.5" stroke="#10108c" stroke-width="1.25"/>
<line x1="905.22" y1="598.2" x2="905.22" y2="609.5" stroke="#10108c" stroke-width="1.25"/>
<line x1="914.85" y1="597.5" x2="914.85" y2="609.5" stroke="#10108c" stroke-width="1.25"/>
<line x1="924.48" y1="600.1" x2="924.48" y2="609.5" stroke="#10108c" stroke-width="1.25"/>
<line x1="934.1" y1="600.1" x2="934.1" y2="609.5" stroke="#10108c" stroke-width="1.25"/>
<line x1="943.73" y1="601.6" x2="943.73" y2="609.5" stroke="#10108c" stroke-width="1.25"/>
<line x1="953.36" y1="601.6" x2="953.36" y2="609.5" stroke="#10108c" stroke-width="1.25"/>
<line x1="962.99" y1="598.8" x2="962.99" y2="609.5" stroke="#10108c" stroke-width="1.25"/>
<line x1="972.61" y1="602.7" x2="972.61" y2="609.5" stroke="#10108c" stroke-width="1.25"/>
<line x1="982.24" y1="597.5" x2="982.24" y2="609.5" stroke="#10108c" stroke-width="1.25"/>
<line x1="991.87" y1="602" x2="991.87" y2="609.5" stroke="#10108c" stroke-width="1.25"/>
<line x1="1001.49" y1="605.2" x2="1001.49" y2="609.5" stroke="#10108c" stroke-width="1.25"/>
<line x1="1011.12" y1="606.5" x2="1011.12" y2="609.5" stroke="#10108c" stroke-width="1.25"/>
<line x1="1020.75" y1="605.9" x2="1020.75" y2="609.5" stroke="#10108c" stroke-width="1.25"/>
<line x1="1030.37" y1="605.5" x2="1030.37" y2="609.5" stroke="#10108c" stroke-width="1.25"/>
<line x1="1040" y1="600.7" x2="1040" y2="609.5" stroke="#10108c" stroke-width="1.25"/>
<line x1="1049.63" y1="603.3" x2="1049.63" y2="609.5" stroke="#10108c" stroke-width="1.25"/>
<line x1="1059.26" y1="600.7" x2="1059.26" y2="609.5" stroke="#10108c" stroke-width="1.25"/>
<line x1="1068.88" y1="602.4" x2="1068.88" y2="609.5" stroke="#10108c" stroke-width="1.25"/>
<line x1="1078.51" y1="600.7" x2="1078.51" y2="609.5" stroke="#10108c" stroke-width="1.25"/>
<line x1="1088.14" y1="598.2" x2="1088.14" y2="609.5" stroke="#10108c" stroke-width="1.25"/>
<polyline points="44,599.3 202.9,599.3 202.9,600.6 298.2,600.6 298.2,599.3 414,599.3 414,598.5 435.3,598.5 435.3,597.3 467,597.3 467,596.2 478.5,596.2 478.5,595.3 509.3,595.3 509.3,594.3 528.6,594.3 528.6,593.3 569.9,593.3 569.9,592.4 590.5,592.4 590.5,591.3 649.7,591.3 649.7,590.2 699.3,590.2 699.3,589.1 753.4,589.1 753.4,590.2 824.1,590.2 824.1,591.3 862.8,591.3 862.8,592.4 904,592.4 904,593.3 952.9,593.3 952.9,594.3 965.1,594.3 965.1,595.3 985.7,595.3 985.7,596.5 1006.4,596.5 1006.4,597.3 1028.3,597.3 1028.3,598.4 1047.6,598.4 1047.6,599.4 1088.2,599.4" fill="none" stroke="#e02848" stroke-width="1.1" />
<line x1="44" y1="611.3" x2="1200" y2="611.3" stroke="#000" stroke-width="1.15"/>
<line x1="44" y1="624.3" x2="1200" y2="624.3" stroke="#000" stroke-width="1.15"/>
<line x1="77.3" y1="611" x2="77.3" y2="624.5" stroke="#000" stroke-width="1.2"/>
<text x="78.5" y="620.8" class="dl">11</text>
<line x1="125.44" y1="611" x2="125.44" y2="624.5" stroke="#000" stroke-width="1.2"/>
<text x="126.64" y="620.8" class="dl">18</text>
<line x1="173.57" y1="611" x2="173.57" y2="624.5" stroke="#000" stroke-width="1.2"/>
<text x="174.77" y="620.8" class="dl">25</text>
<line x1="221.71" y1="611" x2="221.71" y2="624.5" stroke="#000" stroke-width="1.2"/>
<text x="222.91" y="620.8" class="dl">1</text>
<line x1="269.84" y1="611" x2="269.84" y2="624.5" stroke="#000" stroke-width="1.2"/>
<text x="271.04" y="620.8" class="dl">8</text>
<line x1="317.98" y1="611" x2="317.98" y2="624.5" stroke="#000" stroke-width="1.2"/>
<text x="319.18" y="620.8" class="dl">15</text>
<line x1="366.11" y1="611" x2="366.11" y2="624.5" stroke="#000" stroke-width="1.2"/>
<text x="367.31" y="620.8" class="dl">22</text>
<line x1="414.25" y1="611" x2="414.25" y2="624.5" stroke="#000" stroke-width="1.2"/>
<text x="415.45" y="620.8" class="dl">29</text>
<line x1="462.38" y1="611" x2="462.38" y2="624.5" stroke="#000" stroke-width="1.2"/>
<text x="463.58" y="620.8" class="dl">6</text>
<line x1="510.52" y1="611" x2="510.52" y2="624.5" stroke="#000" stroke-width="1.2"/>
<text x="511.72" y="620.8" class="dl">13</text>
<line x1="558.65" y1="611" x2="558.65" y2="624.5" stroke="#000" stroke-width="1.2"/>
<text x="559.85" y="620.8" class="dl">20</text>
<line x1="606.79" y1="611" x2="606.79" y2="624.5" stroke="#000" stroke-width="1.2"/>
<text x="607.99" y="620.8" class="dl">27</text>
<line x1="654.92" y1="611" x2="654.92" y2="624.5" stroke="#000" stroke-width="1.2"/>
<text x="656.12" y="620.8" class="dl">3</text>
<line x1="703.06" y1="611" x2="703.06" y2="624.5" stroke="#000" stroke-width="1.2"/>
<text x="704.26" y="620.8" class="dl">10</text>
<line x1="751.19" y1="611" x2="751.19" y2="624.5" stroke="#000" stroke-width="1.2"/>
<text x="752.39" y="620.8" class="dl">17</text>
<line x1="799.33" y1="611" x2="799.33" y2="624.5" stroke="#000" stroke-width="1.2"/>
<text x="800.53" y="620.8" class="dl">24</text>
<line x1="847.46" y1="611" x2="847.46" y2="624.5" stroke="#000" stroke-width="1.2"/>
<text x="848.66" y="620.8" class="dl">1</text>
<line x1="895.6" y1="611" x2="895.6" y2="624.5" stroke="#000" stroke-width="1.2"/>
<text x="896.8" y="620.8" class="dl">8</text>
<line x1="943.73" y1="611" x2="943.73" y2="624.5" stroke="#000" stroke-width="1.2"/>
<text x="944.93" y="620.8" class="dl">15</text>
<line x1="991.87" y1="611" x2="991.87" y2="624.5" stroke="#000" stroke-width="1.2"/>
<text x="993.07" y="620.8" class="dl">22</text>
<line x1="1011.12" y1="611" x2="1011.12" y2="624.5" stroke="#000" stroke-width="1.2"/>
<text x="1012.32" y="620.8" class="dl">29</text>
<line x1="1040" y1="611" x2="1040" y2="624.5" stroke="#000" stroke-width="1.2"/>
<text x="1041.2" y="620.8" class="dl">5</text>
<line x1="1088.14" y1="611" x2="1088.14" y2="624.5" stroke="#000" stroke-width="1.2"/>
<text x="1089.34" y="620.8" class="dl">12</text>
<line x1="1136.27" y1="611" x2="1136.27" y2="624.5" stroke="#000" stroke-width="1.2"/>
<text x="1137.47" y="620.8" class="dl">19</text>
<line x1="1184.41" y1="611" x2="1184.41" y2="624.5" stroke="#000" stroke-width="1.2"/>
<text x="1185.61" y="620.8" class="dl">26</text>
<line x1="221.71" y1="611" x2="221.71" y2="637" stroke="#000" stroke-width="1.3"/>
<text x="223.71" y="634.5" class="ml">September</text>
<line x1="433.5" y1="611" x2="433.5" y2="637" stroke="#000" stroke-width="1.3"/>
<text x="435.5" y="634.5" class="ml">October</text>
<line x1="654.92" y1="611" x2="654.92" y2="637" stroke="#000" stroke-width="1.3"/>
<text x="656.92" y="634.5" class="ml">November</text>
<line x1="847.46" y1="611" x2="847.46" y2="637" stroke="#000" stroke-width="1.3"/>
<text x="849.46" y="634.5" class="ml">December</text>
<line x1="1030.37" y1="611" x2="1030.37" y2="637" stroke="#000" stroke-width="1.3"/>
<text x="1032.37" y="634.5" class="ml">2009</text>
<text x="44.5" y="634.5" class="ml">st</text>
<text x="32" y="585.5" text-anchor="end" class="vl">30000</text>
<text x="32" y="603.5" text-anchor="end" class="vl">40000</text>
<path d="M2.5,611 V600.5 H22.5 V611" fill="#fff" stroke="#000" stroke-width="1"/>
<text x="4" y="607.6" class="xl">x 100</text>
<text x="1238" y="585.5" text-anchor="end" class="vl">30000</text>
<text x="1238" y="603.5" text-anchor="end" class="vl">40000</text>
<path d="M1202.5,611 V600.5 H1220 V611" fill="#fff" stroke="#000" stroke-width="1"/>
<text x="1203.5" y="607.6" class="xl">x100</text>
<text x="459" y="11.8" class="tl" textLength="325" lengthAdjust="spacing">GEA GROUP AG  ETR (12.1400, 12.1500, 11.5800, 11.6600, -0.45000)</text>
<text x="549.5" y="11.8" class="tl" textLength="142" lengthAdjust="spacing">Moving Average(200) (17.5867)</text>
</svg></body></html>
